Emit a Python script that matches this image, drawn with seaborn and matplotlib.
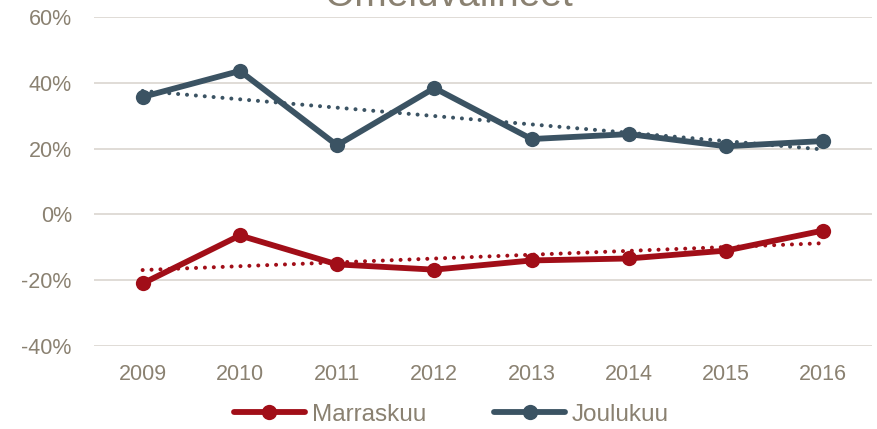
import numpy as np
import pandas as pd
import matplotlib
matplotlib.use("Agg")
import matplotlib.pyplot as plt
import seaborn as sns
from matplotlib.lines import Line2D

years = ["2009", "2010", "2011", "2012", "2013", "2014", "2015", "2016"]
marraskuu = [-0.210, -0.064, -0.152, -0.168, -0.140, -0.134, -0.110, -0.049]
joulukuu = [0.357, 0.436, 0.210, 0.384, 0.229, 0.244, 0.207, 0.223]
series_names = ["Marraskuu", "Joulukuu"]
title = "Omeluvalineet"
yticks = [-0.4, -0.2, 0.0, 0.2, 0.4, 0.6]

RED = "#A10E18"
SLATE = "#3B5363"
TXT = "#8A8171"
GRID = "#E0DCD6"

sns.set_theme(style="white")
plt.rcParams["font.family"] = ["Liberation Sans", "DejaVu Sans"]

df = pd.DataFrame({
    "x": list(range(len(years))) * 2,
    "value": marraskuu + joulukuu,
    "series": [series_names[0]] * len(years) + [series_names[1]] * len(years),
})

fig = plt.figure(figsize=(8.77, 4.29), dpi=100)
ax = fig.add_axes([0.1072, 0.1935, 0.887, 0.7669])

palette = {series_names[0]: RED, series_names[1]: SLATE}
for name, vals in [(series_names[0], marraskuu), (series_names[1], joulukuu)]:
    x = np.arange(len(vals))
    k, b = np.polyfit(x, vals, 1)
    ax.plot(x, k * x + b, linestyle=(0, (0.01, 2.2)), dash_capstyle="round",
            color=palette[name], linewidth=2.9, zorder=2)

sns.lineplot(data=df, x="x", y="value", hue="series", palette=palette,
             marker="o", markersize=11, markeredgewidth=0, linewidth=4.2,
             ax=ax, legend=False, zorder=3)

ax.set_xlim(-0.5, len(years) - 0.5)
ax.set_ylim(-0.4, 0.6)
ax.set_xticks(range(len(years)))
ax.set_xticklabels(years)
ax.set_yticks(yticks)
ax.set_yticklabels([f"{int(round(v*100))}%" for v in yticks])
ax.grid(axis="y", color=GRID, linewidth=1.4)
ax.set_axisbelow(True)
for s in ax.spines.values():
    s.set_visible(False)
ax.tick_params(axis="both", length=0, labelsize=15.5, colors=TXT)
ax.tick_params(axis="y", pad=16)
ax.tick_params(axis="x", pad=13)
ax.set_xlabel("")
ax.set_ylabel("")

fig.text(0.511, 1.01, title, ha="center", va="center", fontsize=28, color=TXT)

handles = [Line2D([0], [0], color=RED, marker="o", markersize=11, linewidth=4.2, markeredgewidth=0),
           Line2D([0], [0], color=SLATE, marker="o", markersize=11, linewidth=4.2, markeredgewidth=0)]
leg = fig.legend(handles, series_names, loc="center", bbox_to_anchor=(0.515, 0.033), ncol=2,
                 frameon=False, handlelength=2.9, handletextpad=0.3, columnspacing=2.8,
                 fontsize=17.5)
for t in leg.get_texts():
    t.set_color(TXT)

fig.savefig("out.png", dpi=100)
